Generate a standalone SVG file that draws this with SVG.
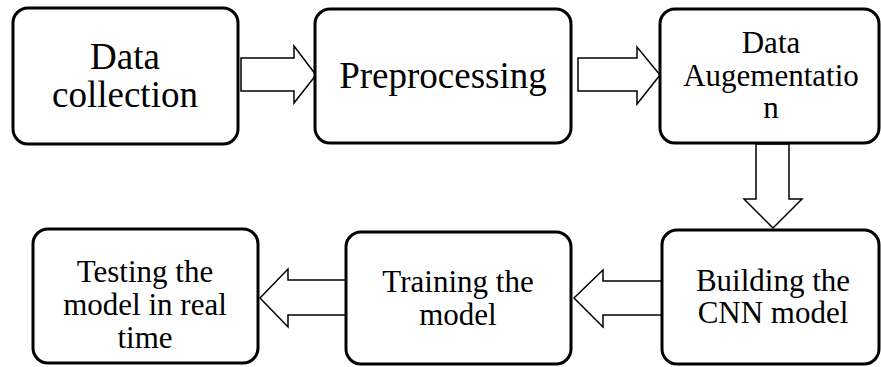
<svg xmlns="http://www.w3.org/2000/svg" width="881" height="367" viewBox="0 0 881 367">
<style>
.box{fill:#fff;stroke:#000;stroke-width:3}
.arr{fill:#fff;stroke:#000;stroke-width:1.5;stroke-linejoin:miter}
text{font-family:"Liberation Serif","Times New Roman",serif;fill:#000;text-anchor:middle}
.big{font-size:37px}
.mid{font-size:31px}
</style>
<rect width="881" height="367" fill="#fff"/>
<g id="connectors">
<polygon class="arr" points="241,58 294,58 294,46 316,75 294,103 294,91 241,91"/>
<polygon class="arr" points="578,58 637,58 637,47 660,75 637,104 637,91 578,91"/>
<polygon class="arr" points="756,144 789,144 789,199 802,199 773,228 744,199 756,199"/>
<polygon class="arr" points="662,281 603,281 603,270 574,298 603,327 603,315 662,315"/>
<polygon class="arr" points="346,280 288,280 288,269 260,298 288,327 288,315 346,315"/>
</g>
<g id="node1">
<rect class="box" x="13" y="8" width="225" height="136" rx="15"/>
<text class="big" x="125" y="69">Data</text>
<text class="big" x="125" y="107">collection</text>
</g>
<g id="node2">
<rect class="box" x="315" y="9" width="256" height="134" rx="15"/>
<text class="big" x="443" y="88">Preprocessing</text>
</g>
<g id="node3">
<rect class="box" x="660" y="9" width="219" height="134" rx="15"/>
<text class="mid" x="771" y="53">Data</text>
<text class="mid" x="771" y="86">Augementatio</text>
<text class="mid" x="771" y="118">n</text>
</g>
<g id="node4">
<rect class="box" x="662" y="230" width="217" height="134" rx="15"/>
<text class="mid" x="773" y="291">Building the</text>
<text class="mid" x="773" y="323">CNN model</text>
</g>
<g id="node5">
<rect class="box" x="346" y="232" width="225" height="132" rx="15"/>
<text class="mid" x="458" y="292">Training the</text>
<text class="mid" x="458" y="325">model</text>
</g>
<g id="node6">
<rect class="box" x="33" y="229" width="225" height="134" rx="15"/>
<text class="mid" x="145" y="282">Testing the</text>
<text class="mid" x="145" y="315">model in real</text>
<text class="mid" x="145" y="348">time</text>
</g>
</svg>
